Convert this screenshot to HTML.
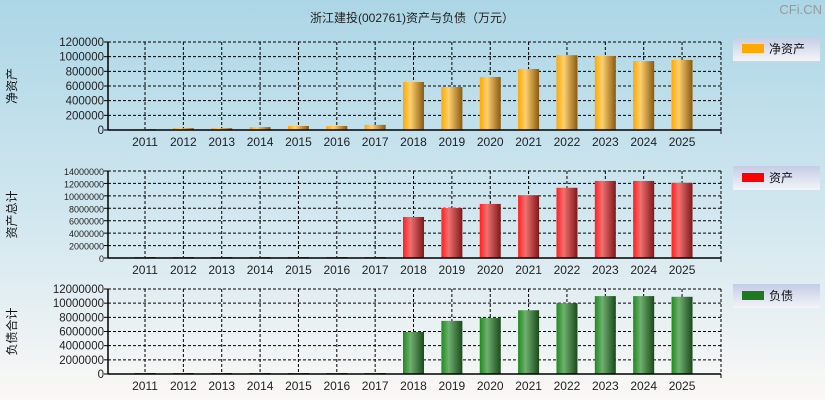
<!DOCTYPE html>
<html><head><meta charset="utf-8"><style>
html,body{margin:0;padding:0;width:825px;height:400px;overflow:hidden}
html,body{background:linear-gradient(#acd6e6,#d6e9f0 60%,#fbf8f6)}
body{font-family:"Liberation Sans","Noto Sans CJK SC",sans-serif}
svg{display:block}
</style></head><body>
<svg id="c" width="825" height="400" xmlns="http://www.w3.org/2000/svg" font-family="Liberation Sans, Noto Sans CJK SC, sans-serif">
<defs>
<linearGradient id="go" x1="0" x2="1"><stop offset="0" stop-color="#ffa800"/><stop offset="0.35" stop-color="#ffd070"/><stop offset="1" stop-color="#8a5a10"/></linearGradient>
<linearGradient id="gr" x1="0" x2="1"><stop offset="0" stop-color="#ff2020"/><stop offset="0.35" stop-color="#f07070"/><stop offset="1" stop-color="#801818"/></linearGradient>
<linearGradient id="gg" x1="0" x2="1"><stop offset="0" stop-color="#1e8a1e"/><stop offset="0.35" stop-color="#70b070"/><stop offset="1" stop-color="#1a4a1a"/></linearGradient>
<linearGradient id="lg" x1="0" x2="0" y1="0" y2="1"><stop offset="0" stop-color="#c4cde6"/><stop offset="1" stop-color="#f4f4f8"/></linearGradient>
</defs>
<text x="412" y="22" font-size="12" text-anchor="middle" fill="#222">浙江建投(002761)资产与负债（万元）</text>
<text x="822" y="14" font-size="13" text-anchor="end" fill="#999">CFi.CN</text>
</svg>
<script>
const years=['2011','2012','2013','2014','2015','2016','2017','2018','2019','2020','2021','2022','2023','2024','2025'];
const netAssets=[12000,25000,25000,40000,55000,55000,70000,655000,586000,723000,832000,1020000,1010000,940000,955000];
const totalAssets=[150000,150000,150000,150000,150000,150000,150000,6600000,8050000,8700000,10100000,11300000,12400000,12400000,12100000];
const liabilities=[140000,140000,140000,140000,140000,140000,140000,5930000,7500000,7900000,9000000,10000000,11000000,11000000,10900000];
const NS='http://www.w3.org/2000/svg',svg=document.getElementById('c');
function el(t,a,p){const e=document.createElementNS(NS,t);for(const k in a)e.setAttribute(k,a[k]);(p||svg).appendChild(e);return e;}
const X0=108,X1=721;
function xs(i){return 145+38.36*i;}
function panel(key,top,bot,max,step,vals,fill,legendColor,legendText,ylabel,fs){
 const g=el('g',{});
 
 
 const ys=v=>bot-(v/max)*(bot-top);
 for(let v=0;v<=max;v+=step){
  const y=ys(v);
  if(v>0){const l=el('line',{x1:X0,x2:X1,y1:y,y2:y,stroke:'#000','stroke-dasharray':'3,2','stroke-width':1},g);}
  const t=el('text',{x:X0-4,y:y+4,'font-size':fs,'text-anchor':'end',fill:'#222'},g);t.textContent=v;
  
  el('line',{x1:X0-4,x2:X0,y1:y,y2:y,stroke:'#000'},g);
 }
 years.forEach((yr,i)=>{
  const x=xs(i);
  const l=el('line',{x1:x,x2:x,y1:top,y2:bot,stroke:'#000','stroke-dasharray':'3,2'},g);
  
  const t=el('text',{x:x,y:bot+16,'font-size':12,'text-anchor':'middle',fill:'#222'},g);t.textContent=yr;
  
 });
 el('line',{x1:X1,x2:X1,y1:top,y2:bot+4,stroke:'#000','stroke-dasharray':'3,2'},g);
 el('line',{x1:X0,x2:X1,y1:top,y2:top,stroke:'#000','stroke-dasharray':'3,2'},g);
 vals.forEach((v,i)=>{
  const y=ys(v);
  const r=el('rect',{x:xs(i)-10.5,y:y,width:21,height:Math.max(bot-y,1.5),fill:fill},g);
  
  
 });
 el('line',{x1:X0,x2:X0,y1:top,y2:bot,stroke:'#000','stroke-width':1.5},g);
 el('line',{x1:X0,x2:X1,y1:bot,y2:bot,stroke:'#000','stroke-width':1.5},g);
 el('line',{x1:X1,x2:X1,y1:bot,y2:bot+4,stroke:'#000'},g);
 const lg=el('g',{},svg);
 
 
 el('rect',{x:733,y:top-5,width:87,height:24,fill:'url(#lg)'},lg);
 el('rect',{x:742,y:top+2,width:22,height:9,fill:legendColor},lg);
 const lt=el('text',{x:769,y:top+11,'font-size':12,fill:'#111'},lg);lt.textContent=legendText;
 const yc=(top+bot)/2;
 const yl=el('text',{x:0,y:0,'font-size':12,fill:'#111','text-anchor':'middle',transform:`translate(16,${yc}) rotate(-90)`},svg);
 yl.textContent=ylabel;
 
 
}
panel('net-assets',42,130,1200000,200000,netAssets,'url(#go)','#ffa800','净资产','净资产',11.5);
panel('total-assets',171,258,14000000,2000000,totalAssets,'url(#gr)','#ff0000','资产','资产总计',9);
panel('liabilities',289,374,12000000,2000000,liabilities,'url(#gg)','#1e7a1e','负债','负债合计',11.5);
</script>
</body></html>
